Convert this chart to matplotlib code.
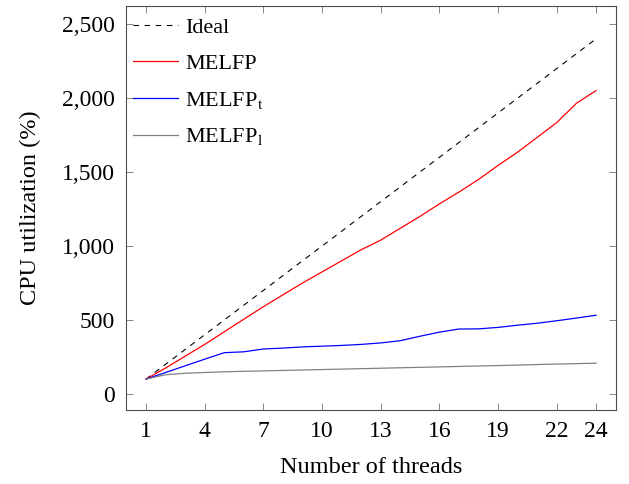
import matplotlib
matplotlib.use("Agg")
import matplotlib.pyplot as plt
from matplotlib.ticker import FuncFormatter

# datos
hilos = list(range(1, 25))
ideal = [100 * n for n in hilos]
melfp = [100, 175, 255, 335, 420, 505, 590, 670, 750, 825, 900, 975,
         1040, 1120, 1200, 1285, 1365, 1450, 1545, 1635, 1735, 1835, 1965, 2050]
melfp_t = [100, 145, 190, 235, 279, 285, 304, 310, 318, 323, 328, 335,
           345, 360, 390, 418, 439, 440, 450, 465, 478, 495, 513, 532]
melfp_l = [100, 130, 140, 145, 150, 153, 156, 159, 162, 165, 168, 171,
           174, 177, 180, 183, 186, 189, 192, 195, 199, 202, 205, 208]
xticks = [1, 4, 7, 10, 13, 16, 19, 22, 24]
yticks = [0, 500, 1000, 1500, 2000, 2500]

plt.rcParams['font.family'] = ['Liberation Serif', 'DejaVu Serif']
plt.rcParams['mathtext.fontset'] = 'stix'

fig = plt.figure(figsize=(6.29, 4.84), dpi=100)
ax = fig.add_axes([0.2003, 0.153, 0.7790, 0.8346])

ax.plot(hilos, ideal, color='black', linestyle=(0, (5, 5)), linewidth=0.8, label='Ideal')
ax.plot(hilos, melfp, color='red', linewidth=0.9, label='MELFP')
ax.plot(hilos, melfp_t, color='blue', linewidth=0.9, label=r'MELFP$_\mathrm{t}$')
ax.plot(hilos, melfp_l, color='gray', linewidth=0.9, label=r'MELFP$_\mathrm{l}$')

ax.set_xlim(-0.02, 25.02)
ax.set_ylim(-108, 2622)
ax.set_xticks(xticks)
ax.set_yticks(yticks)
ax.yaxis.set_major_formatter(FuncFormatter(lambda v, p: f"{int(v):,}"))
ax.tick_params(direction='in', top=True, right=True, length=5, width=0.6,
               color='0.45', labelsize=17, pad=8)
for s in ax.spines.values():
    s.set_linewidth(0.8)
    s.set_color('0.3')

ax.set_xlabel('Number of threads', fontsize=17.5, labelpad=11)
ax.set_ylabel('CPU utilization (%)', fontsize=17.5, labelpad=15)

ax.legend(loc='upper left', frameon=False, fontsize=16, handlelength=2.05,
          handletextpad=0.3, labelspacing=0.7, borderaxespad=0.2,
          borderpad=0.1, bbox_to_anchor=(0.0, 0.988))

fig.savefig('out.png', dpi=100)
